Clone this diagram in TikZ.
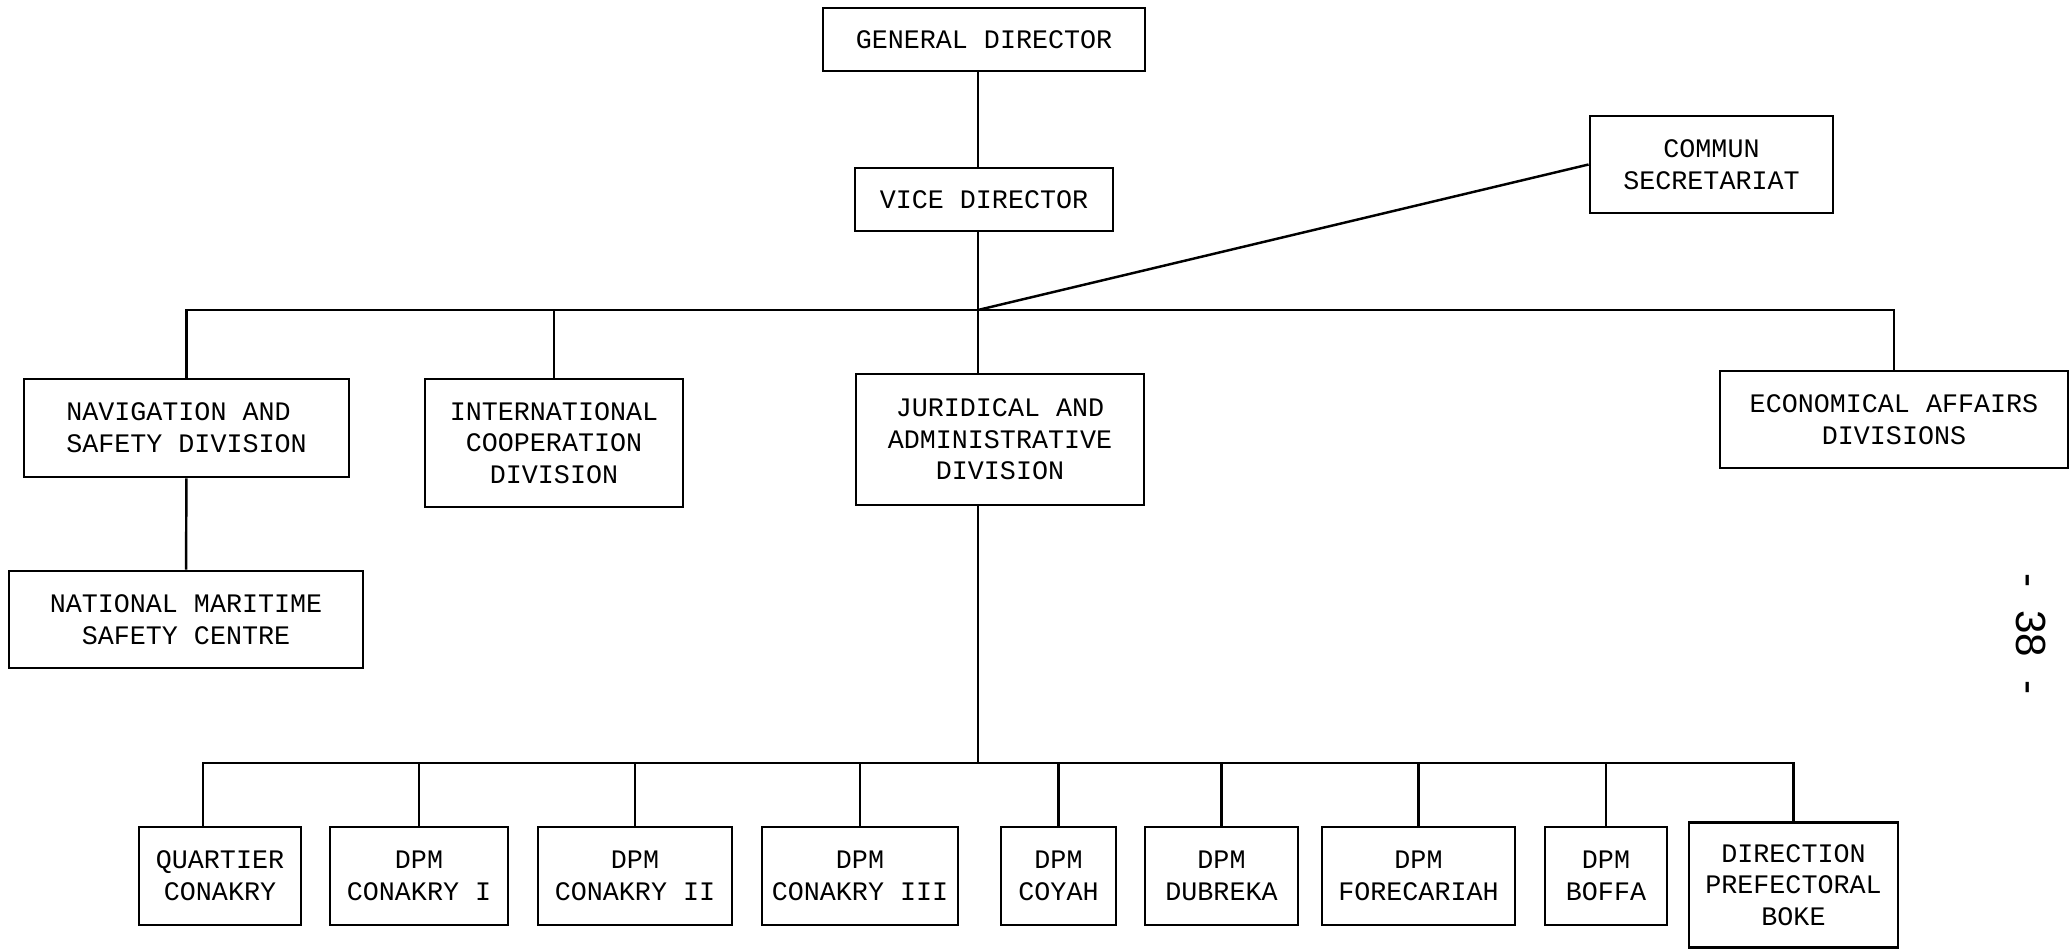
\documentclass[tikz,border=0pt]{standalone}
\usepackage{fontspec}
\setmonofont{Liberation Mono}
\setsansfont{Liberation Sans}
\usetikzlibrary{positioning, calc}
\newcommand{\orgfont}{\ttfamily\fontsize{7.6}{9}\selectfont}

\begin{document}
\begin{tikzpicture}[
  orgbox/.style={draw, line width=0.8pt, font=\orgfont, align=center, inner sep=2pt},
  link/.style={line width=0.7pt}
]
  \useasboundingbox (0,0) rectangle (20.71,9.49);

  % Direction
  \node[orgbox, minimum width=3.22cm, minimum height=0.63cm] (gd) at (9.84, 9.095) {GENERAL DIRECTOR};
  \node[orgbox, minimum width=2.58cm, minimum height=0.63cm] (vd) at (9.84, 7.495) {VICE DIRECTOR};
  \node[orgbox, minimum width=2.43cm, minimum height=0.97cm] (commun) at (17.115, 7.845) {COMMUN\\SECRETARIAT};

  % Divisions
  \node[orgbox, align=left, minimum width=3.25cm, minimum height=0.98cm] (nav) at (1.865, 5.21) {NAVIGATION AND\\SAFETY DIVISION};
  \node[orgbox, minimum width=2.58cm, minimum height=1.28cm] (intl) at (5.54, 5.06) {INTERNATIONAL\\COOPERATION\\DIVISION};
  \node[orgbox, minimum width=2.88cm, minimum height=1.31cm] (jur) at (10.0, 5.095) {JURIDICAL AND\\ADMINISTRATIVE\\DIVISION};
  \node[orgbox, minimum width=3.48cm, minimum height=0.97cm] (econ) at (18.94, 5.295) {ECONOMICAL AFFAIRS\\DIVISIONS};
  \node[orgbox, minimum width=3.54cm, minimum height=0.97cm] (natl) at (1.86, 3.295) {NATIONAL MARITIME\\SAFETY CENTRE};

  % Local offices
  \node[orgbox, minimum width=1.62cm, minimum height=0.98cm] (quartier) at (2.20, 0.73) {QUARTIER\\CONAKRY};
  \node[orgbox, minimum width=1.78cm, minimum height=0.98cm] (dpmcon1) at (4.19, 0.73) {DPM\\CONAKRY I};
  \node[orgbox, minimum width=1.94cm, minimum height=0.98cm] (dpmcon2) at (6.35, 0.73) {DPM\\CONAKRY II};
  \node[orgbox, minimum width=1.96cm, minimum height=0.98cm] (dpmcon3) at (8.60, 0.73) {DPM\\CONAKRY III};
  \node[orgbox, minimum width=1.15cm, minimum height=0.98cm] (dpmcoyah) at (10.585, 0.73) {DPM\\COYAH};
  \node[orgbox, minimum width=1.53cm, minimum height=0.98cm] (dpmdubreka) at (12.215, 0.73) {DPM\\DUBREKA};
  \node[orgbox, minimum width=1.93cm, minimum height=0.98cm] (dpmforec) at (14.185, 0.73) {DPM\\FORECARIAH};
  \node[orgbox, minimum width=1.22cm, minimum height=0.98cm] (dpmboffa) at (16.06, 0.73) {DPM\\BOFFA};
  \node[orgbox, minimum width=2.09cm, minimum height=1.25cm] (dirboke) at (17.935, 0.64) {DIRECTION\\PREFECTORAL\\BOKE};

  % Page number
  \node[font=\sffamily\fontsize{12}{14}\selectfont, rotate=-90] (pagenum) at (20.31, 3.15) {-\ \ 38\ \ -};

  % Junctions
  \coordinate (hub) at (9.78, 6.39);
  \coordinate (hubB) at (9.78, 1.86);

  % Upper links
  \draw[link] (gd.south -| hub) -- (vd.north -| hub);
  \draw[link] (vd.south -| hub) -- (hub);
  \draw[link] (hub) -- (commun.west);
  \draw[link] (nav.north) -- (nav.north |- hub) -| (econ.north);
  \draw[link] (intl.north) -- (intl.north |- hub);
  \draw[link] (hub) -- (hub |- jur.north);
  \draw[link] (nav) -- (natl);

  % Lower links
  \draw[link] (jur.south -| hub) -- (hubB);
  \draw[link] ([xshift=-0.17cm]quartier.north) |- (hubB) -| (dirboke.north);
  \draw[link] (dpmcon1.north) -- (dpmcon1.north |- hubB);
  \draw[link] (dpmcon2.north) -- (dpmcon2.north |- hubB);
  \draw[link] (dpmcon3.north) -- (dpmcon3.north |- hubB);
  \draw[link] (dpmcoyah.north) -- (dpmcoyah.north |- hubB);
  \draw[link] (dpmdubreka.north) -- (dpmdubreka.north |- hubB);
  \draw[link] (dpmforec.north) -- (dpmforec.north |- hubB);
  \draw[link] (dpmboffa.north) -- (dpmboffa.north |- hubB);
\end{tikzpicture}
\end{document}
